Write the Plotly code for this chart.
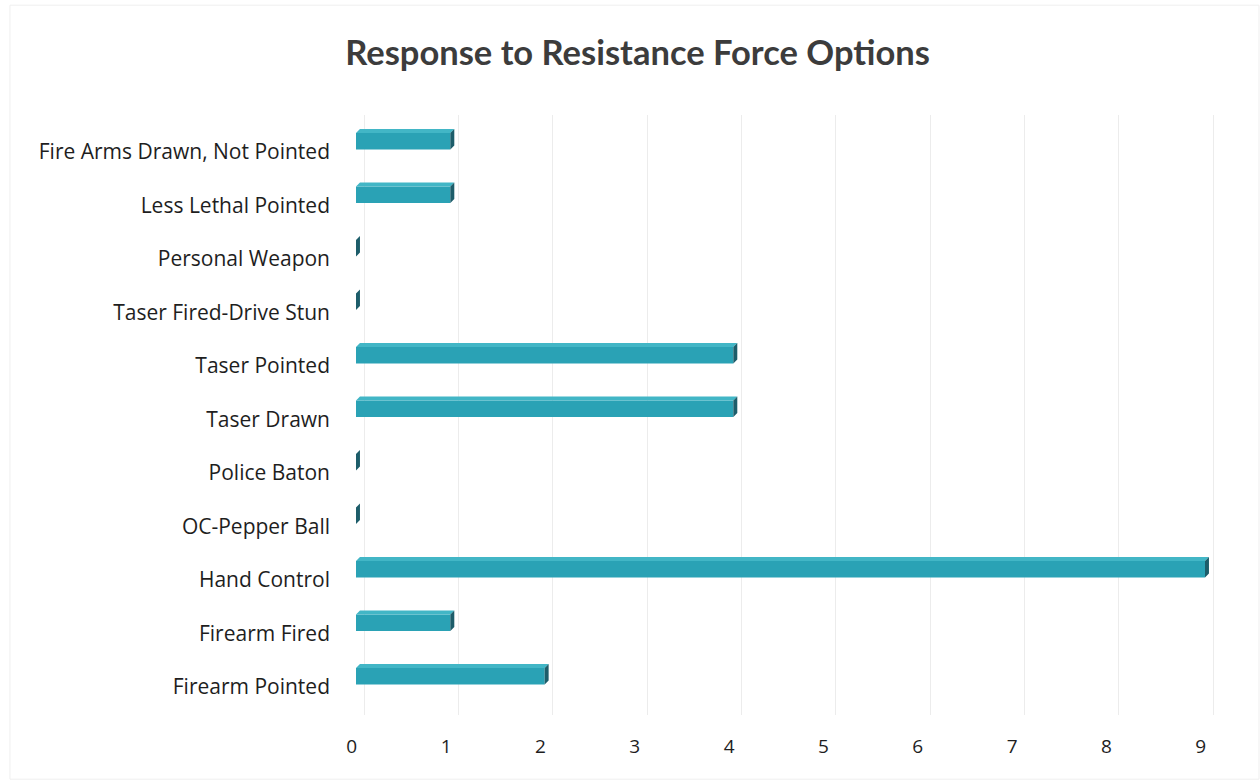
import plotly.graph_objects as go

# Force options (top to bottom) and the number of incidents for each
categories = [
    "Fire Arms Drawn, Not Pointed",
    "Less Lethal Pointed",
    "Personal Weapon",
    "Taser Fired-Drive Stun",
    "Taser Pointed",
    "Taser Drawn",
    "Police Baton",
    "OC-Pepper Ball",
    "Hand Control",
    "Firearm Fired",
    "Firearm Pointed",
]
counts = [1, 1, 0, 0, 4, 4, 0, 0, 9, 1, 2]
x_ticks = list(range(10))

FRONT = "#2aa2b5"
TOP = "#42b6c6"
SIDE = "#1d5d6a"
LABEL_FONT = "Open Sans, Lato, sans-serif"
TITLE_FONT = "Lato, Open Sans, sans-serif"

# Pseudo-3D bar geometry (in axis units)
bar_w = 0.31           # thickness of the front face
lift = 0.2             # bars sit slightly above their label
dx, dy = 0.042, 0.075  # depth of the extruded faces
wall = 0.085           # back wall (gridlines) sits behind the bars
label_shift = -0.045   # value labels sit on the front edge of the floor

X_RANGE = [-0.053, 9.265]
pos = [i - lift for i in range(len(categories))]

fig = go.Figure()

# front faces
fig.add_trace(go.Bar(
    x=counts, y=pos, base=0, orientation="h", width=bar_w,
    marker=dict(color=FRONT, line=dict(width=0)),
    hoverinfo="skip", showlegend=False,
))

# top faces and right-hand side faces
top_x, top_y, side_x, side_y = [], [], [], []
for v, c in zip(counts, pos):
    yt = c - bar_w / 2
    yb = c + bar_w / 2
    top_x += [0, v, v + dx, dx, 0, None]
    top_y += [yt, yt, yt - dy, yt - dy, yt, None]
    side_x += [v, v, v + dx, v + dx, v, None]
    side_y += [yt, yb, yb - dy, yt - dy, yt, None]

fig.add_trace(go.Scatter(
    x=top_x, y=top_y, mode="lines", fill="toself", fillcolor=TOP,
    line=dict(width=0, color=TOP), hoverinfo="skip", showlegend=False,
))
fig.add_trace(go.Scatter(
    x=side_x, y=side_y, mode="lines", fill="toself", fillcolor=SIDE,
    line=dict(width=0, color=SIDE), hoverinfo="skip", showlegend=False,
))

# carrier for the back-wall grid axis
fig.add_trace(go.Scatter(
    x=[0], y=[0], xaxis="x2", mode="markers",
    marker=dict(opacity=0), hoverinfo="skip", showlegend=False,
))

fig.update_layout(
    width=1260, height=780,
    margin=dict(l=351, r=30, t=115, b=65),
    paper_bgcolor="white", plot_bgcolor="white",
    title=dict(
        text="<b>Response to Resistance Force Options</b>",
        x=0.506, xanchor="center", y=0.932, yanchor="middle",
        font=dict(family=TITLE_FONT, size=34.5, color="#3c3c3c"),
    ),
    xaxis=dict(
        range=X_RANGE,
        tickvals=[t + label_shift for t in x_ticks],
        ticktext=[str(t) for t in x_ticks],
        showgrid=False, zeroline=False, showline=False, ticks="",
        ticklabelstandoff=18,
        tickfont=dict(family=LABEL_FONT, size=19, color="#1e1e1e"),
    ),
    xaxis2=dict(
        range=X_RANGE, overlaying="x", side="bottom",
        tickvals=[t + wall for t in x_ticks],
        showticklabels=False, showgrid=True, gridcolor="#ececec", gridwidth=1,
        zeroline=False, showline=False, ticks="",
    ),
    yaxis=dict(
        range=[10.523, -0.692],
        tickvals=list(range(len(categories))), ticktext=categories,
        showgrid=False, zeroline=False, showline=False, ticks="",
        ticklabelstandoff=20,
        tickfont=dict(family=LABEL_FONT, size=21, color="#1e1e1e"),
    ),
    shapes=[dict(
        type="rect", xref="paper", yref="paper",
        x0=-0.388, x1=1.033, y0=-0.107, y1=1.183,
        line=dict(color="#efefef", width=1), layer="below",
    )],
)

fig.write_html("out.html")
